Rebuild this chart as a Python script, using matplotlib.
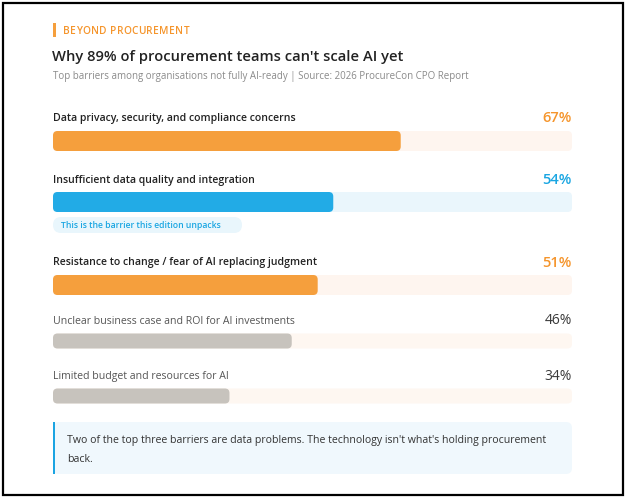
import matplotlib
matplotlib.use("Agg")
import matplotlib.pyplot as plt
from matplotlib.patches import FancyBboxPatch, Rectangle

# ---- data ----
categories = [
    "Data privacy, security, and compliance concerns",
    "Insufficient data quality and integration",
    "Resistance to change / fear of AI replacing judgment",
    "Unclear business case and ROI for AI investments",
    "Limited budget and resources for AI",
]
values = [67, 54, 51, 46, 34]
value_labels = ["67%", "54%", "51%", "46%", "34%"]
highlight = [True, True, True, False, False]

kicker = "BEYOND PROCUREMENT"
title = "Why 89% of procurement teams can't scale AI yet"
subtitle = "Top barriers among organisations not fully AI-ready | Source: 2026 ProcureCon CPO Report"
pill_text = "This is the barrier this edition unpacks"
callout_text = "Two of the top three barriers are data problems. The technology isn't what's holding procurement\nback."

# ---- style / layout ----
ORANGE = "#F59F3D"
ORANGE_TXT = "#F5952C"
BLUE = "#22ABE6"
BLUE_TXT = "#1AA6E2"
GRAY = "#C7C3BD"
bar_colors = [ORANGE, BLUE, ORANGE, GRAY, GRAY]
track_colors = ["#FEF5EF", "#EAF6FC", "#FEF5EF", "#FEF7F1", "#FEF7F1"]
pct_colors = [ORANGE_TXT, BLUE_TXT, ORANGE_TXT, "#3A3A3A", "#3A3A3A"]
label_y = [118, 180, 263, 321, 376]
bar_y = [141, 202, 285, 341, 396]
bar_h = [20, 20, 20, 15, 15]

FONT = "Open Sans"
W, H = 625, 497
fig = plt.figure(figsize=(W / 100, H / 100), dpi=100)
fig.patch.set_facecolor("white")

bg = fig.add_axes([0, 0, 1, 1])
bg.set_xlim(0, W)
bg.set_ylim(H, 0)
bg.axis("off")

# outer frame
bg.add_patch(Rectangle((2.5, 2.5), W - 4.5, H - 5, fill=False, edgecolor="black", linewidth=1.6))

# kicker (letter-spaced by drawing each character)
bg.add_patch(Rectangle((53, 23), 2.5, 14, color=ORANGE, linewidth=0))
fig.canvas.draw()
renderer = fig.canvas.get_renderer()
x = 63.0
for ch in kicker:
    t = bg.text(x, 31, ch, fontsize=7.3, color=ORANGE_TXT, fontweight="semibold", family=FONT,
                va="center", ha="left")
    if ch == " ":
        w = 2.6
    else:
        w = t.get_window_extent(renderer).width
    x += w + 0.35

bg.text(52, 57, title, fontsize=10.6, color="#222222", fontweight="semibold", family=FONT,
        va="center", ha="left")
bg.text(53, 76, subtitle, fontsize=7.0, color="#8A8A8A", family=FONT, va="center", ha="left")

# bars axes: x in percent, y in pixel rows
L, R = 53, 572
ax = fig.add_axes([L / W, 0, (R - L) / W, 1])
ax.set_xlim(0, 100)
ax.set_ylim(H, 0)
ax.axis("off")
px_per_unit = (R - L) / 100.0
radius_px = 4.5
rs = radius_px / px_per_unit
for i, v in enumerate(values):
    y0 = bar_y[i] - bar_h[i] / 2
    ax.add_patch(FancyBboxPatch((0, y0), 100, bar_h[i],
                                boxstyle=f"round,pad=0,rounding_size={rs}",
                                mutation_aspect=px_per_unit,
                                facecolor=track_colors[i], edgecolor="none"))
    ax.add_patch(FancyBboxPatch((0, y0), v, bar_h[i],
                                boxstyle=f"round,pad=0,rounding_size={rs}",
                                mutation_aspect=px_per_unit,
                                facecolor=bar_colors[i], edgecolor="none"))
    weight = "semibold" if highlight[i] else "normal"
    color = "#222222" if highlight[i] else "#555555"
    ax.text(0, label_y[i], categories[i], fontsize=7.6, color=color, fontweight=weight,
            family=FONT, va="center", ha="left")
    ax.text(100, label_y[i], value_labels[i], fontsize=10.5 if highlight[i] else 10,
            color=pct_colors[i], fontweight="semibold" if highlight[i] else "normal",
            family=FONT, va="center", ha="right")

# pill under highlighted bar
bg.add_patch(FancyBboxPatch((53, 217), 189, 16, boxstyle="round,pad=0,rounding_size=8",
                            facecolor="#E9F6FC", edgecolor="none"))
bg.text(61, 225.5, pill_text, fontsize=6.2, color=BLUE_TXT, fontweight="semibold", family=FONT,
        va="center", ha="left")

# callout box
bg.add_patch(FancyBboxPatch((53, 422), 519, 52, boxstyle="round,pad=0,rounding_size=6",
                            facecolor="#F0F8FD", edgecolor="none"))
bg.add_patch(Rectangle((53, 422), 2.2, 52, color="#1BA4E2", linewidth=0))
bg.text(67, 450, callout_text, fontsize=7.6, color="#333333", family=FONT, va="center", ha="left",
        linespacing=1.95)

fig.savefig("out.png", dpi=100, facecolor="white")
